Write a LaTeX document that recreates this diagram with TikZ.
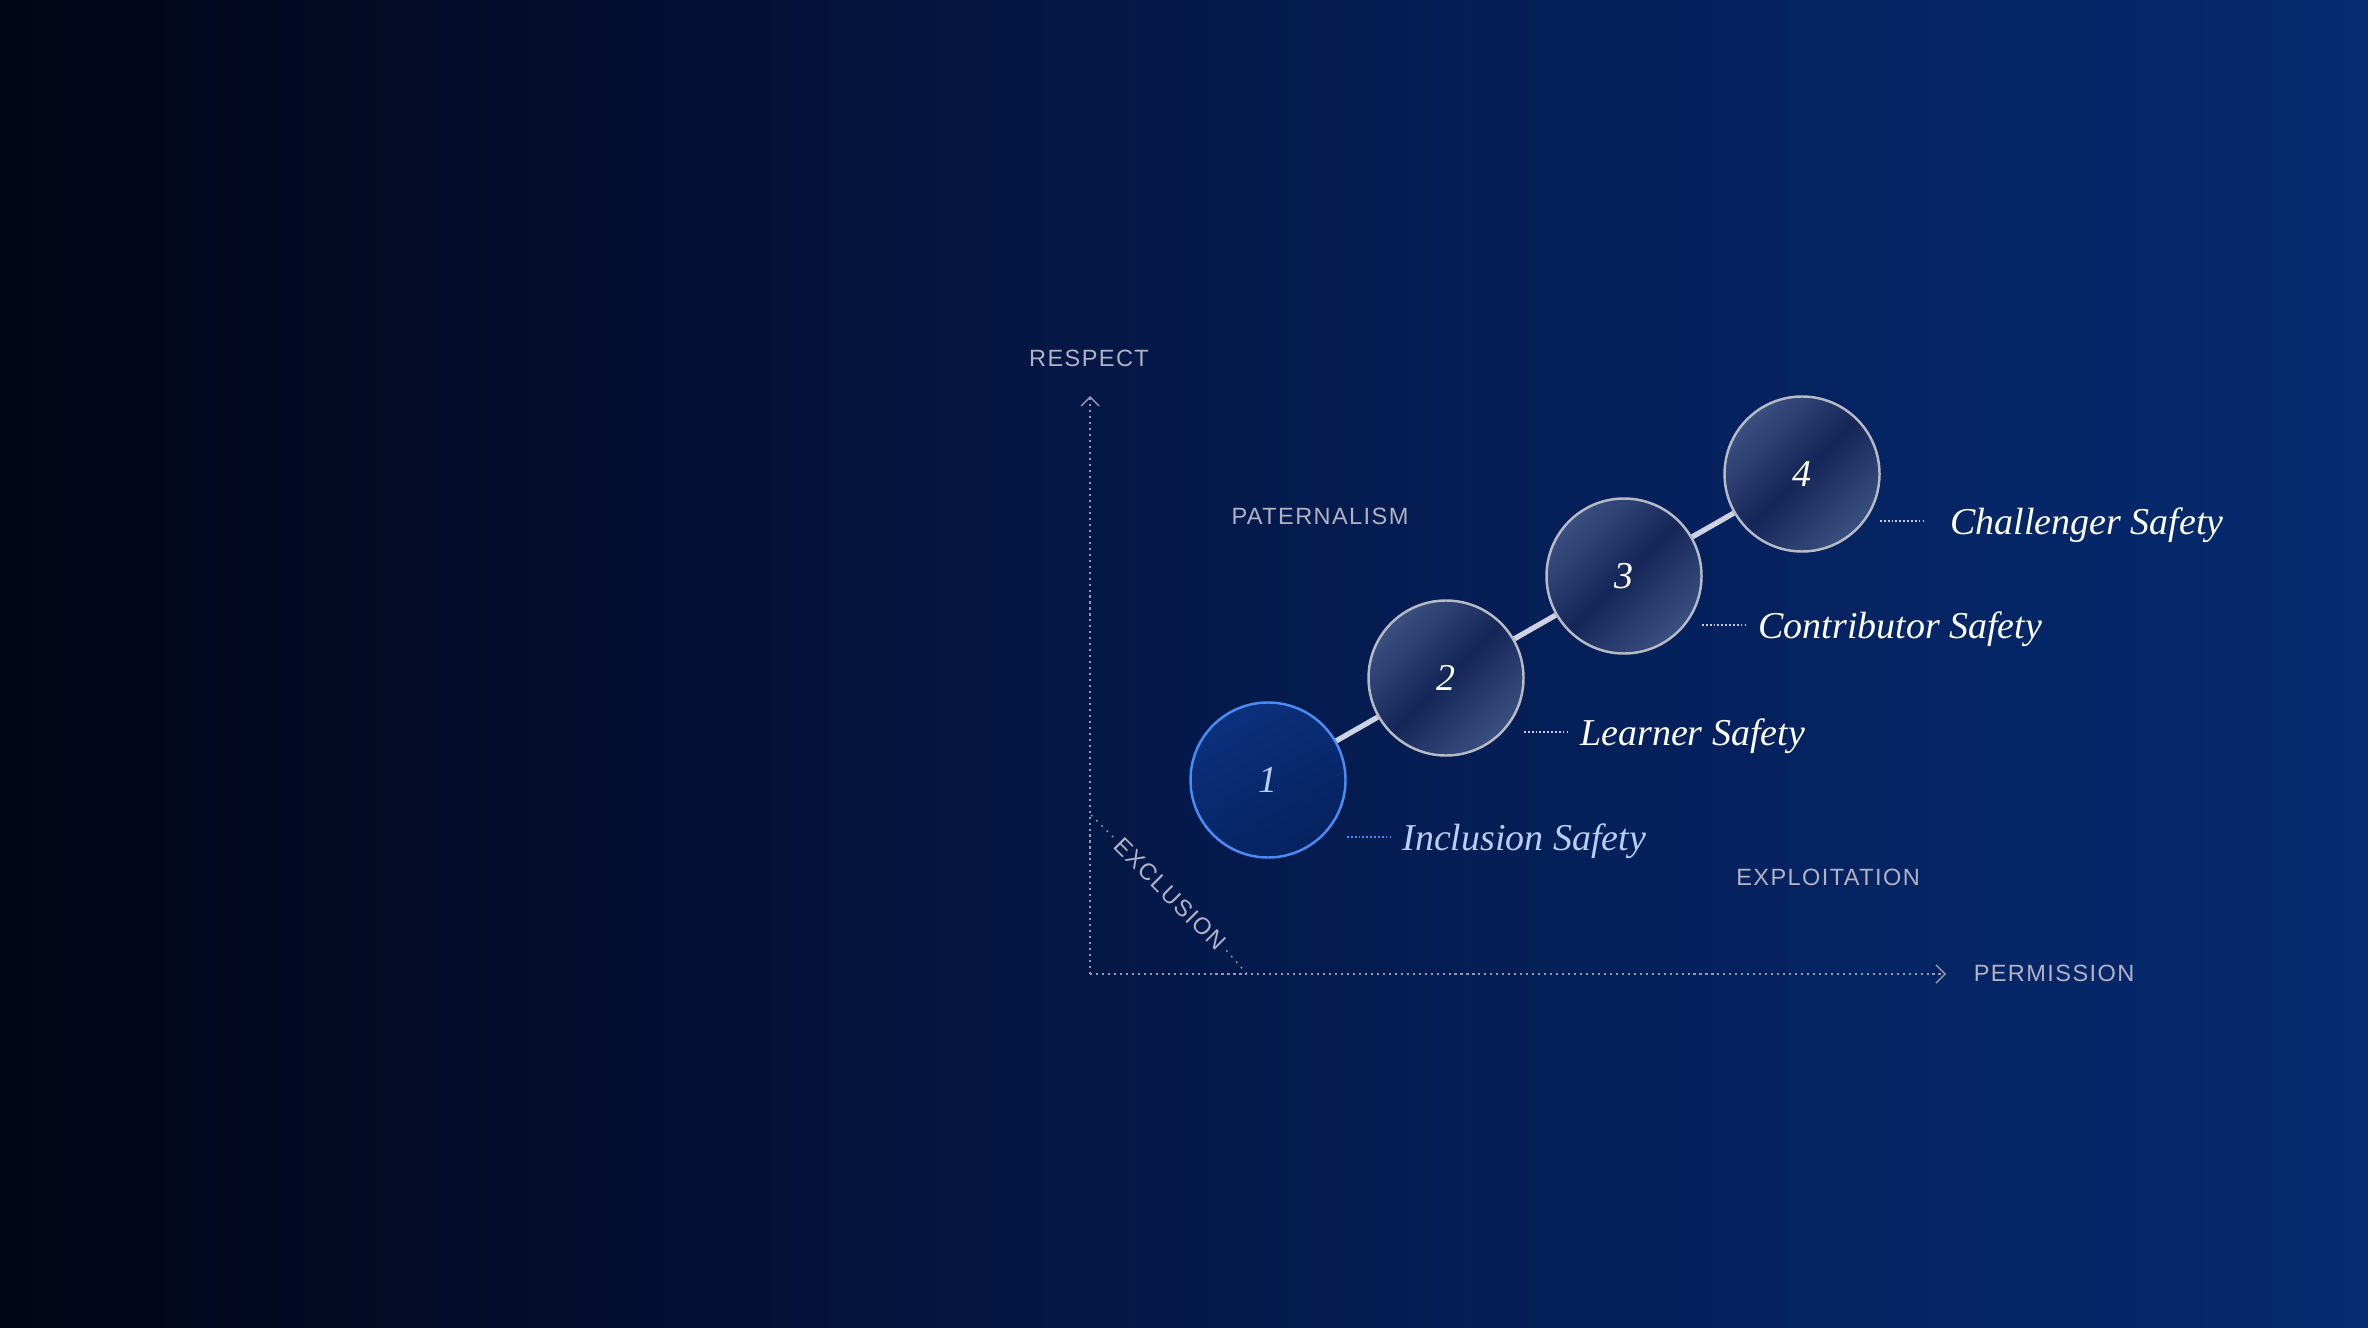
\documentclass[tikz,border=0pt]{standalone}
\usepackage{fontspec}
\usepackage{tikz}
\usetikzlibrary{arrows.meta,calc}

\newfontfamily\axisfont[LetterSpace=6]{Liberation Sans}
\newfontfamily\stagefont{Liberation Serif}

\definecolor{axisgray}{RGB}{150,154,178}
\definecolor{labelgray}{RGB}{180,178,194}
\definecolor{glasslight}{RGB}{58,80,128}
\definecolor{glassdark}{RGB}{20,38,88}
\definecolor{ringgray}{RGB}{184,186,198}
\definecolor{inclblue}{RGB}{74,140,245}
\definecolor{incllight}{RGB}{11,48,124}
\definecolor{incldark}{RGB}{6,34,96}
\definecolor{incltext}{RGB}{184,206,245}
\definecolor{barwhite}{RGB}{206,210,226}
\definecolor{leadgray}{RGB}{196,200,218}

\pgfdeclarehorizontalshading{nightsky}{100bp}{rgb(0bp)=(0.008,0.020,0.090); rgb(25bp)=(0.008,0.020,0.090); rgb(35bp)=(0.012,0.047,0.160); rgb(47.5bp)=(0.016,0.090,0.275); rgb(60bp)=(0.020,0.128,0.360); rgb(70bp)=(0.020,0.155,0.415); rgb(75bp)=(0.024,0.168,0.440); rgb(100bp)=(0.024,0.168,0.440)}

\begin{document}
\begin{tikzpicture}[
    axis/.style={axisgray,line width=0.4pt,dash pattern=on 0.6pt off 1.1pt},
    axislabel/.style={labelgray,font=\axisfont\fontsize{6.7}{8}\selectfont},
    stage/.style={circle,minimum size=1.55cm,inner sep=0pt,line width=0.7pt,draw=ringgray,
        top color=glasslight,bottom color=glasslight,middle color=glassdark,shading angle=45,
        text=white,font=\stagefont\itshape\fontsize{10.8}{13}\selectfont},
    first/.style={draw=inclblue,top color=incllight,bottom color=incldark,middle color=incldark!50!incllight,
        shading angle=30,text=incltext},
    stagelabel/.style={white,anchor=base west,font=\stagefont\itshape\fontsize{10.8}{13}\selectfont},
    leader/.style={leadgray,line width=0.6pt,dash pattern=on 0.5pt off 0.6pt},
    bar/.style={barwhite,line width=1.5pt}]

\shade[shading=nightsky] (0,0) rectangle (23.68,13.27);

\coordinate (origin) at (10.90,3.53);
\coordinate (ytop) at (10.90,9.31);
\coordinate (xend) at (19.46,3.53);
\coordinate (exa) at (10.91,5.12);
\coordinate (exb) at (12.47,3.53);

\draw[axis,-{Straight Barb[length=0.9mm,width=1.8mm,line width=0.4pt]}] (origin) -- (ytop);
\draw[axis,-{Straight Barb[length=0.9mm,width=1.8mm,line width=0.4pt]}] (origin) -- (xend);

\node (respect) [axislabel] at (10.89,9.69) {RESPECT};
\node (permission) [axislabel] at (20.54,3.54) {PERMISSION};
\node (paternalism) [axislabel] at (13.20,8.11) {PATERNALISM};
\node (exploitation) [axislabel] at (18.28,4.50) {EXPLOITATION};
\node (exclusion) [axislabel,rotate=-45,inner sep=1.5pt] at (11.70,4.33) {EXCLUSION};

\draw[axis,dash pattern=on 0.5pt off 1.6pt] (exa) -- (exclusion.west);
\draw[axis,dash pattern=on 0.5pt off 1.6pt] (exclusion.east) -- (exb);

\node (st1) [stage,first] at (12.68,5.47) {1};
\node (st2) [stage] at (14.46,6.49) {2};
\node (st3) [stage] at (16.24,7.51) {3};
\node (st4) [stage] at (18.02,8.53) {4};

\draw[bar] (st1) -- (st2);
\draw[bar] (st2) -- (st3);
\draw[bar] (st3) -- (st4);

\coordinate (ld1) at ($(st1)+(0.79,-0.57)$);
\coordinate (ld2) at ($(st2)+(0.78,-0.54)$);
\coordinate (ld3) at ($(st3)+(0.78,-0.49)$);
\coordinate (ld4) at ($(st4)+(0.78,-0.47)$);

\node (lab1) [stagelabel,incltext] at ($(ld1)+(0.43,-0.13)$) {Inclusion Safety};
\node (lab2) [stagelabel] at ($(ld2)+(0.44,-0.13)$) {Learner Safety};
\node (lab3) [stagelabel] at ($(ld3)+(0.44,-0.13)$) {Contributor Safety};
\node (lab4) [stagelabel,inner xsep=7.3pt] at ($(ld4)+(0.44,-0.13)$) {Challenger Safety};

\draw[leader,inclblue] (ld1) -- (ld1 -| lab1.west);
\draw[leader] (ld2) -- (ld2 -| lab2.west);
\draw[leader] (ld3) -- (ld3 -| lab3.west);
\draw[leader] (ld4) -- (ld4 -| lab4.west);

\end{tikzpicture}
\end{document}
